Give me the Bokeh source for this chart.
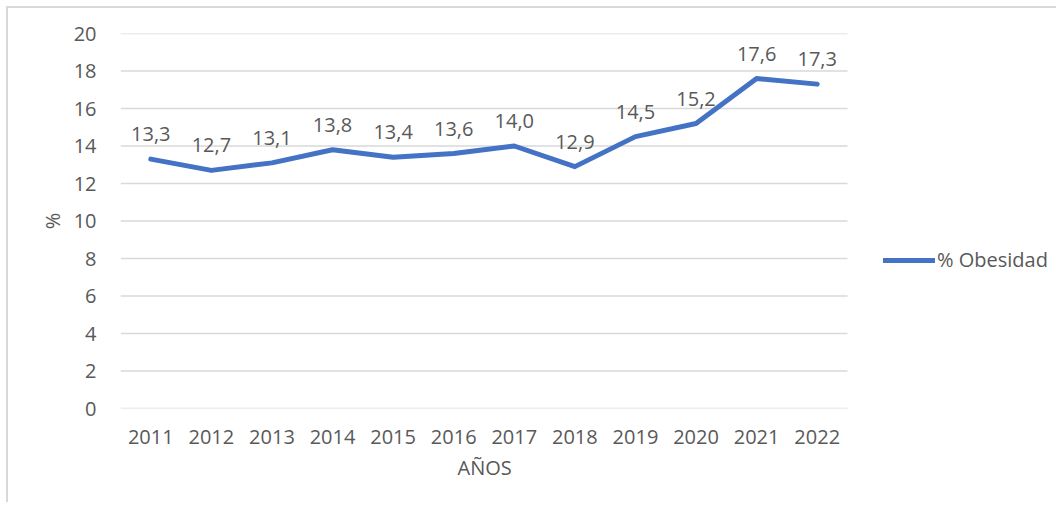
from bokeh.plotting import figure
from bokeh.models import Range1d, FixedTicker, Legend, LegendItem, ColumnDataSource, Title
from bokeh.core.properties import value
from bokeh.embed import file_html
from bokeh.resources import INLINE

years = ["2011", "2012", "2013", "2014", "2015", "2016", "2017", "2018", "2019", "2020", "2021", "2022"]
obesidad = [13.3, 12.7, 13.1, 13.8, 13.4, 13.6, 14.0, 12.9, 14.5, 15.2, 17.6, 17.3]
labels = [f"{v:.1f}".replace(".", ",") for v in obesidad]
y_ticks = [0, 2, 4, 6, 8, 10, 12, 14, 16, 18, 20]

FONT = "Open Sans"
GREY = "#595959"
BLUE = "#4472C4"
FS = "20px"

n = len(years)
xs = list(range(n))
src = ColumnDataSource(dict(x=xs, y=obesidad, t=labels))

# plot area (categories) occupies 727px of a 938px-wide frame; the rest holds the legend
x_end = -0.5 + n * 938 / 727
p = figure(x_range=Range1d(-0.5, x_end), y_range=Range1d(0, 20),
           width=1050, height=496, output_backend="svg", toolbar_location=None,
           min_border_left=112, min_border_right=0, min_border_top=25, min_border_bottom=96)
p.styles = {"border-top": "2px solid #d9d9d9", "border-left": "2px solid #d9d9d9",
            "margin-left": "6px", "margin-top": "6px"}
p.outline_line_color = None
p.background_fill_color = "white"
p.border_fill_color = "white"

p.xgrid.grid_line_color = None
p.ygrid.grid_line_color = None
p.yaxis.ticker = FixedTicker(ticks=y_ticks)
p.xaxis.ticker = FixedTicker(ticks=xs)
p.xaxis.major_label_overrides = {i: y for i, y in enumerate(years)}

# horizontal gridlines limited to the category area
p.segment(x0=[-0.5] * len(y_ticks), x1=[n - 0.5] * len(y_ticks), y0=y_ticks, y1=y_ticks,
          line_color="#d9d9d9", line_width=1.5)

for ax in (p.xaxis[0], p.yaxis[0]):
    ax.axis_line_color = None
    ax.major_tick_line_color = None
    ax.minor_tick_line_color = None
    ax.major_label_text_font = FONT
    ax.major_label_text_font_size = FS
    ax.major_label_text_color = GREY
    ax.axis_label_text_font = FONT
    ax.axis_label_text_font_size = FS
    ax.axis_label_text_color = GREY
    ax.axis_label_text_font_style = "normal"

p.xaxis.major_label_standoff = 15
p.yaxis.axis_label = "%"
p.yaxis.major_label_standoff = 18
p.yaxis.axis_label_standoff = 5

# x-axis title centred under the category area (not the whole frame)
p.add_layout(Title(text="AÑOS", align="left", offset=337, standoff=10, text_font=FONT,
                   text_font_size=FS, text_color=GREY, text_font_style="normal"), "below")

r = p.line("x", "y", source=src, line_color=BLUE, line_width=5, line_join="round", line_cap="round")
p.text("x", "y", text="t", source=src, text_font=value(FONT), text_font_size=FS,
       text_color=GREY, text_align="center", text_baseline="alphabetic", y_offset=-25)

leg = Legend(items=[LegendItem(label="% Obesidad", renderers=[r])], location=(763, 135),
             glyph_width=52, label_standoff=2, padding=0, margin=0, border_line_color=None,
             background_fill_alpha=0, label_text_font=FONT, label_text_font_size=FS,
             label_text_color=GREY)
p.add_layout(leg, "center")

open("out.html", "w").write(file_html(p, INLINE))
